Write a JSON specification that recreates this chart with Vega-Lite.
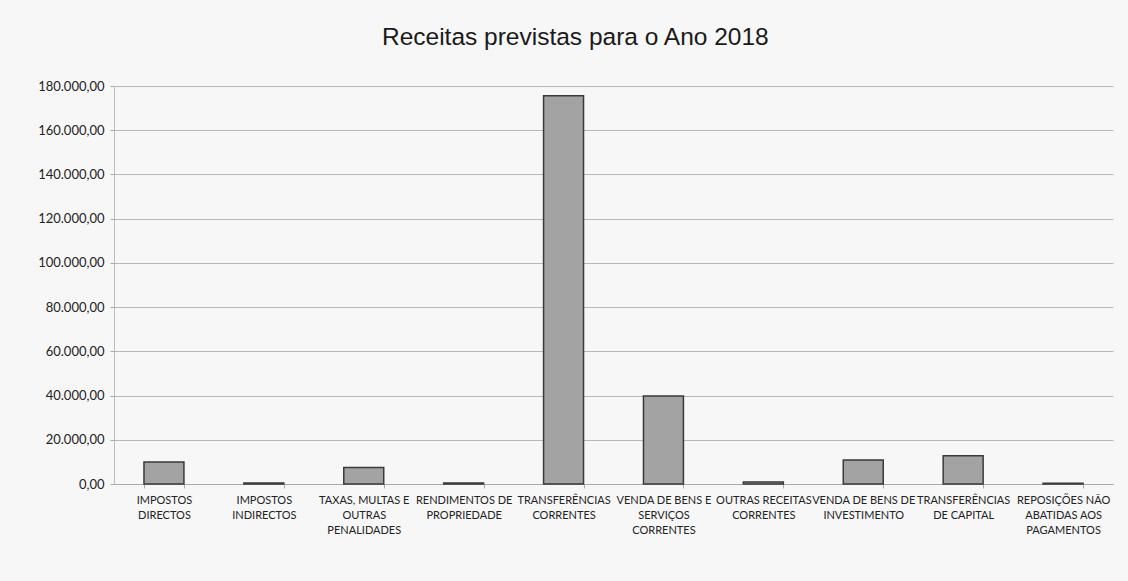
{
  "$schema": "https://vega.github.io/schema/vega-lite/v6.json",
  "autosize": "none",
  "width": 999,
  "height": 398,
  "padding": {"left": 114, "top": 86, "right": 15, "bottom": 97},
  "background": "#f7f7f7",
  "title": {
    "text": "Receitas previstas para o Ano 2018",
    "font": "Liberation Sans",
    "fontSize": 24.5,
    "fontWeight": "normal",
    "color": "#1a1a1a",
    "anchor": "middle",
    "frame": "bounds",
    "offset": 30
  },
  "data": {
    "values": [
      {"categoria": "IMPOSTOS DIRECTOS", "valor": 9900},
      {"categoria": "IMPOSTOS INDIRECTOS", "valor": 400},
      {"categoria": "TAXAS, MULTAS E OUTRAS PENALIDADES", "valor": 7500},
      {"categoria": "RENDIMENTOS DE PROPRIEDADE", "valor": 400},
      {"categoria": "TRANSFERÊNCIAS CORRENTES", "valor": 175600},
      {"categoria": "VENDA DE BENS E SERVIÇOS CORRENTES", "valor": 39800},
      {"categoria": "OUTRAS RECEITAS CORRENTES", "valor": 900},
      {"categoria": "VENDA DE BENS DE INVESTIMENTO", "valor": 10900},
      {"categoria": "TRANSFERÊNCIAS DE CAPITAL", "valor": 12800},
      {"categoria": "REPOSIÇÕES NÃO ABATIDAS AOS PAGAMENTOS", "valor": 300}
    ]
  },
  "mark": {"type": "bar", "fill": "#a3a3a3", "stroke": "#3a3a3a", "strokeWidth": 1.5},
  "encoding": {
    "x": {
      "field": "categoria",
      "type": "nominal",
      "sort": null,
      "scale": {"paddingInner": 0.6, "paddingOuter": 0.3},
      "axis": {
        "title": null,
        "labelAngle": 0,
        "labelFont": "Lato",
        "labelFontSize": 11,
        "labelColor": "#222",
        "labelLineHeight": 15,
        "labelPadding": 6,
        "labelLimit": 200,
        "tickBand": "extent",
        "tickColor": "#aaa",
        "tickSize": 4,
        "domainColor": "#aaa",
        "labelExpr": "datum.value == 'IMPOSTOS DIRECTOS' ? ['IMPOSTOS','DIRECTOS'] : datum.value == 'IMPOSTOS INDIRECTOS' ? ['IMPOSTOS','INDIRECTOS'] : datum.value == 'TAXAS, MULTAS E OUTRAS PENALIDADES' ? ['TAXAS, MULTAS E','OUTRAS','PENALIDADES'] : datum.value == 'RENDIMENTOS DE PROPRIEDADE' ? ['RENDIMENTOS DE','PROPRIEDADE'] : datum.value == 'TRANSFERÊNCIAS CORRENTES' ? ['TRANSFERÊNCIAS','CORRENTES'] : datum.value == 'VENDA DE BENS E SERVIÇOS CORRENTES' ? ['VENDA DE BENS E','SERVIÇOS','CORRENTES'] : datum.value == 'OUTRAS RECEITAS CORRENTES' ? ['OUTRAS RECEITAS','CORRENTES'] : datum.value == 'VENDA DE BENS DE INVESTIMENTO' ? ['VENDA DE BENS DE','INVESTIMENTO'] : datum.value == 'TRANSFERÊNCIAS DE CAPITAL' ? ['TRANSFERÊNCIAS','DE CAPITAL'] : datum.value == 'REPOSIÇÕES NÃO ABATIDAS AOS PAGAMENTOS' ? ['REPOSIÇÕES NÃO','ABATIDAS AOS','PAGAMENTOS'] : ''"
      }
    },
    "y": {
      "field": "valor",
      "type": "quantitative",
      "scale": {"domain": [0, 180000], "nice": false},
      "axis": {
        "title": null,
        "values": [0, 20000, 40000, 60000, 80000, 100000, 120000, 140000, 160000, 180000],
        "labelExpr": "replace(replace(replace(format(datum.value, ',.2f'), ',', '#'), '.', ','), '#', '.')",
        "labelFont": "Lato",
        "labelFontSize": 13,
        "labelColor": "#222",
        "labelPadding": 6,
        "tickSize": 4,
        "tickColor": "#aaa",
        "domainColor": "#bbb",
        "gridColor": "#b8b8b8",
        "gridWidth": 1
      }
    }
  },
  "config": {"view": {"stroke": null}}
}
